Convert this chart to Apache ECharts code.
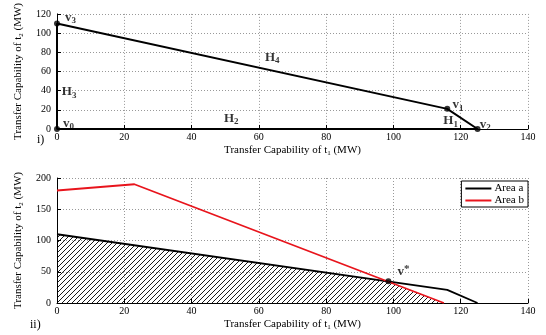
<!DOCTYPE html>
<html>
<head>
<meta charset="utf-8">
<script src="https://cdn.jsdelivr.net/npm/echarts@6/dist/echarts.min.js"></script>
<style>
	html, body { margin: 0; padding: 0; background: #fff; }
	#chart { width: 546px; height: 335px; }
</style>
</head>
<body>
<div id="chart"></div>
<script>
(function () {

	var FONT = 'Liberation Serif';

	// panel i) feasible region boundary v0 -> v3 -> v1 -> v2 -> v0
	var regionA     = [[0, 0], [0, 110], [116, 21], [125, 0], [0, 0]];
	var vertices    = [[0, 0], [0, 110], [116, 21], [125, 0]];
	// text labels: x, y, letter, subscript
	var topLabels   = [
		[4, 116.5, 'v', '3'],
		[64, 74.5, 'H', '4'],
		[3.6, 38.8, 'H', '3'],
		[51.8, 10.9, 'H', '2'],
		[3.4, 6, 'v', '0'],
		[119.2, 25.3, 'v', '1'],
		[117, 8.5, 'H', '1'],
		[127.3, 5, 'v', '2']
	];

	// panel ii)
	var areaA       = [[0, 110], [116, 21], [125, 0]];
	var areaB       = [[0, 180], [23, 190], [115, 0]];
	var vStar       = [98.5, 35];
	var hatchRegion = [[0, 110], [98.5, 35], [115, 0]];

	function hatchPattern() {
		var c = document.createElement('canvas');
		c.width = 5; c.height = 5;
		var ctx = c.getContext('2d');
		ctx.strokeStyle = '#000';
		ctx.lineWidth = 0.9;
		ctx.beginPath();
		ctx.moveTo(-1, 6); ctx.lineTo(6, -1);
		ctx.moveTo(-1, 1); ctx.lineTo(1, -1);
		ctx.moveTo(4, 6); ctx.lineTo(6, 4);
		ctx.stroke();
		return c;
	}

	var nameRich = {
		a: { fontFamily: FONT, fontSize: 11, color: '#000', lineHeight: 14 },
		s: { fontFamily: FONT, fontSize: 7, color: '#000', lineHeight: 7, verticalAlign: 'bottom' }
	};
	var labRich = {
		b: { fontFamily: FONT, fontSize: 13, fontWeight: 'bold', color: '#000', lineHeight: 16 },
		s: { fontFamily: FONT, fontSize: 9, fontWeight: 'bold', color: '#000', lineHeight: 9, verticalAlign: 'bottom' }
	};

	function xAxis(idx) {
		return {
			type: 'value', gridIndex: idx, min: 0, max: 140, interval: 20,
			name: '{a|Transfer Capability of t}{s|1}{a| (MW)}',
			nameLocation: 'middle', nameGap: 14,
			nameTextStyle: { rich: nameRich },
			axisLine: { lineStyle: { color: '#000', width: 1 } },
			axisTick: { inside: true, length: 4, lineStyle: { color: '#000' } },
			axisLabel: { fontFamily: FONT, fontSize: 10, color: '#000', margin: 3 },
			splitLine: { show: true, lineStyle: { color: '#999', type: [1, 2], width: 1 } }
		};
	}

	function yAxis(idx, max, interval) {
		return {
			type: 'value', gridIndex: idx, min: 0, max: max, interval: interval,
			name: '{a|Transfer Capability of t}{s|2}{a| (MW)}',
			nameLocation: 'middle', nameGap: 29, nameRotate: 90,
			nameTextStyle: { rich: nameRich },
			axisLine: { show: true, lineStyle: { color: '#000', width: 1 } },
			axisTick: { show: true, inside: true, length: 4, lineStyle: { color: '#000' } },
			axisLabel: { fontFamily: FONT, fontSize: 10, color: '#000', margin: 6 },
			splitLine: { show: true, lineStyle: { color: '#999', type: [1, 2], width: 1 } }
		};
	}

	var labelData = topLabels.map(function (l) {
		return { value: [l[0], l[1]], label: { formatter: '{b|' + l[2] + '}{s|' + l[3] + '}' } };
	});

	var chart = echarts.init(document.getElementById('chart'));
	chart.setOption({
		animation: false,
		grid: [
			{ left: 57, right: 18, top: 5, height: 124 },
			{ left: 57, right: 18, top: 178, height: 125 }
		],
		xAxis: [xAxis(0), xAxis(1)],
		yAxis: [yAxis(0, 120, 20), yAxis(1, 200, 50)],
		legend: {
			data: [
				{ name: 'Area a', icon: 'rect' },
				{ name: 'Area b', icon: 'rect' }
			],
			orient: 'vertical', right: 18, top: 181,
			itemWidth: 26, itemHeight: 2, itemGap: 1,
			padding: [2, 4, 1, 4],
			borderColor: '#000', borderWidth: 1, borderRadius: 0,
			backgroundColor: '#fff',
			textStyle: { fontFamily: FONT, fontSize: 11, color: '#000', padding: [0, 0, 0, -2] }
		},
		graphic: [
			{ type: 'text', left: 37, top: 134, style: { text: 'i)', font: '12px ' + FONT, fill: '#000' } },
			{ type: 'text', left: 30, top: 319, style: { text: 'ii)', font: '12px ' + FONT, fill: '#000' } }
		],
		series: [
			{
				type: 'line', xAxisIndex: 0, yAxisIndex: 0, data: regionA,
				symbol: 'none', lineStyle: { color: '#000', width: 2 }, z: 3
			},
			{
				type: 'scatter', xAxisIndex: 0, yAxisIndex: 0, data: vertices,
				symbolSize: 6, itemStyle: { color: '#000' }, z: 4
			},
			{
				type: 'scatter', xAxisIndex: 0, yAxisIndex: 0, data: labelData,
				symbolSize: 0, silent: true, z: 5,
				label: { show: true, position: 'inside', rich: labRich }
			},
			{
				type: 'line', xAxisIndex: 1, yAxisIndex: 1, data: hatchRegion,
				symbol: 'none', lineStyle: { width: 0 }, z: 1,
				areaStyle: { color: { image: hatchPattern(), repeat: 'repeat' }, opacity: 1 }
			},
			{
				name: 'Area a', type: 'line', xAxisIndex: 1, yAxisIndex: 1, data: areaA,
				symbol: 'none', color: '#000', lineStyle: { color: '#000', width: 1.8 }, z: 3
			},
			{
				name: 'Area b', type: 'line', xAxisIndex: 1, yAxisIndex: 1, data: areaB,
				symbol: 'none', color: '#e8141c', lineStyle: { color: '#e8141c', width: 1.8 }, z: 3
			},
			{
				type: 'scatter', xAxisIndex: 1, yAxisIndex: 1,
				data: [{ value: vStar, label: { show: true, position: [12, -14], formatter: '{b|v}{s|*}' } }],
				symbolSize: 6, itemStyle: { color: '#000' }, z: 4,
				label: { rich: { b: labRich.b, s: { fontFamily: FONT, fontSize: 11, fontWeight: 'bold', color: '#000', lineHeight: 14, verticalAlign: 'top' } } }
			}
		]
	});

})();
</script>
</body>
</html>
